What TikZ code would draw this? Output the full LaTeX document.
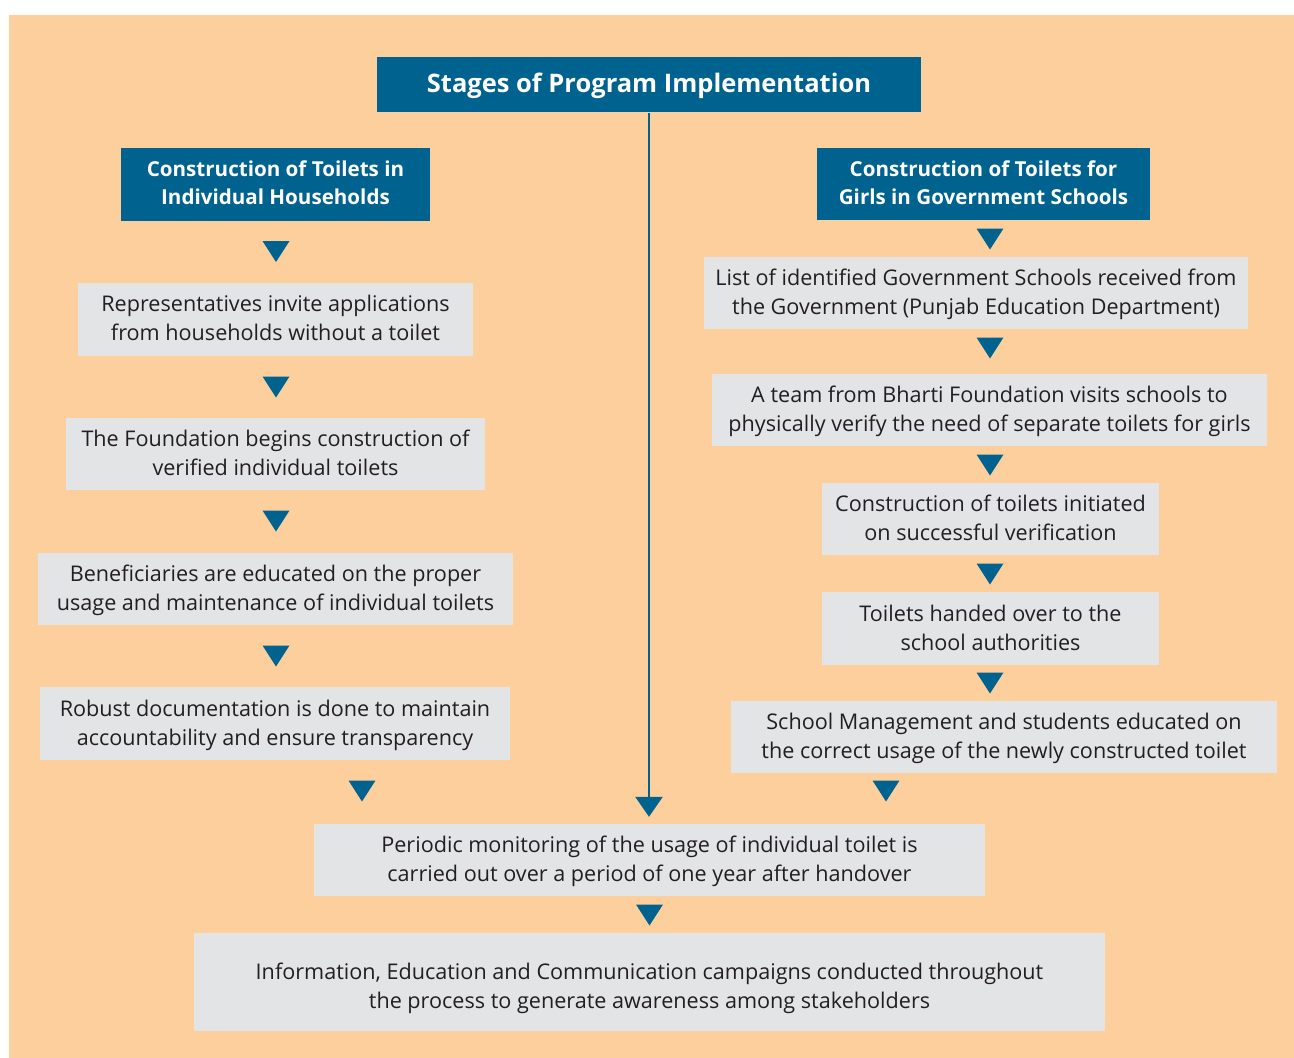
\documentclass[tikz,border=0pt]{standalone}
\usepackage{fontspec}
\setmainfont{Open Sans}
\usetikzlibrary{arrows.meta}
\definecolor{peach}{HTML}{FDCF9D}
\definecolor{dblue}{HTML}{00628F}
\definecolor{lgray}{HTML}{E3E4E6}
\definecolor{tblack}{HTML}{231F20}
% first baseline placed #1 above the node centre
\newcommand\btext[2][7.3pt]{\raisebox{#1}[0pt][0pt]{\begin{tabular}[t]{@{}c@{}}#2\end{tabular}}}
\begin{document}
\begin{tikzpicture}[x=1pt,y=-1pt,
  gbox/.style={fill=lgray, inner sep=0pt, text=tblack, minimum height=72pt,
    font=\fontsize{21.6}{29}\selectfont},
  bbox/.style={fill=dblue, inner sep=0pt, text=white, minimum height=72pt,
    font=\bfseries\fontsize{20.6}{28}\selectfont},
  tbox/.style={fill=dblue, inner sep=0pt, text=white,
    font=\bfseries\fontsize{25.5}{30}\selectfont},
  tri/.pic={\fill[dblue] (-13.5,-10.5) -- (13.5,-10.5) -- (0,10.5) -- cycle;},
  vline/.style={draw=dblue, line width=2.6pt, -{Triangle[width=27pt,length=20pt]}}
]
\useasboundingbox (0,0) rectangle (1294,1058);
\fill[peach] (9,15) rectangle (1294,1058);

% title
\node[tbox, minimum width=544pt, minimum height=55pt] (title) at (649,84.8) {\btext[-7.5pt]{Stages of Program Implementation}};

% left column
\node[bbox, minimum width=309pt, minimum height=73pt] (hl) at (275.5,184.5) {\btext[7.8pt]{Construction of Toilets in\\Individual Households}};
\node[gbox, minimum width=395pt, minimum height=73pt] (l1) at (275.5,319) {\btext{Representatives invite applications\\from households without a toilet}};
\node[gbox, minimum width=419pt] (l2) at (275.5,454) {\btext{The Foundation begins construction of\\verified individual toilets}};
\node[gbox, minimum width=475pt] (l3) at (275.5,589) {\btext{Beneficiaries are educated on the proper\\usage and maintenance of individual toilets}};
\node[gbox, minimum width=470pt, minimum height=73pt] (l4) at (275,723.5) {\btext{Robust documentation is done to maintain\\accountability and ensure transparency}};

% right column
\node[bbox, minimum width=333pt] (hr) at (983.5,184) {\btext[7.8pt]{Construction of Toilets for\\Girls in Government Schools}};
\node[gbox, minimum width=544pt] (r1) at (976,293) {\btext{List of identified Government Schools received from\\the Government (Punjab Education Department)}};
\node[gbox, minimum width=555pt] (r2) at (989.5,410) {\btext{A team from Bharti Foundation visits schools to\\physically verify the need of separate toilets for girls}};
\node[gbox, minimum width=337pt] (r3) at (990.5,519) {\btext{Construction of toilets initiated\\on successful verification}};
\node[gbox, minimum width=337pt, minimum height=73pt] (r4) at (990.5,628.5) {\btext{Toilets handed over to the\\school authorities}};
\node[gbox, minimum width=546pt] (r5) at (1004,737) {\btext{School Management and students educated on\\the correct usage of the newly constructed toilet}};

% bottom
\node[gbox, minimum width=671pt] (m1) at (649.5,860) {\btext{Periodic monitoring of the usage of individual toilet is\\carried out over a period of one year after handover}};
\node[gbox, minimum width=911pt, minimum height=98pt] (m2) at (649.5,982) {\btext[3pt]{Information, Education and Communication campaigns conducted throughout\\the process to generate awareness among stakeholders}};

% central connector
\draw[vline, shorten >=7pt] (title.south) -- (title.south |- m1.north);

% arrowheads
\pic at (276,251.5) {tri};
\pic at (276,387) {tri};
\pic at (276,521) {tri};
\pic at (276,656) {tri};
\pic at (362,791) {tri};
\pic at (990,239) {tri};
\pic at (990,348) {tri};
\pic at (990,465) {tri};
\pic at (990,574) {tri};
\pic at (990,683) {tri};
\pic at (886,791) {tri};
\pic at (649.5,915) {tri};
\end{tikzpicture}
\end{document}
